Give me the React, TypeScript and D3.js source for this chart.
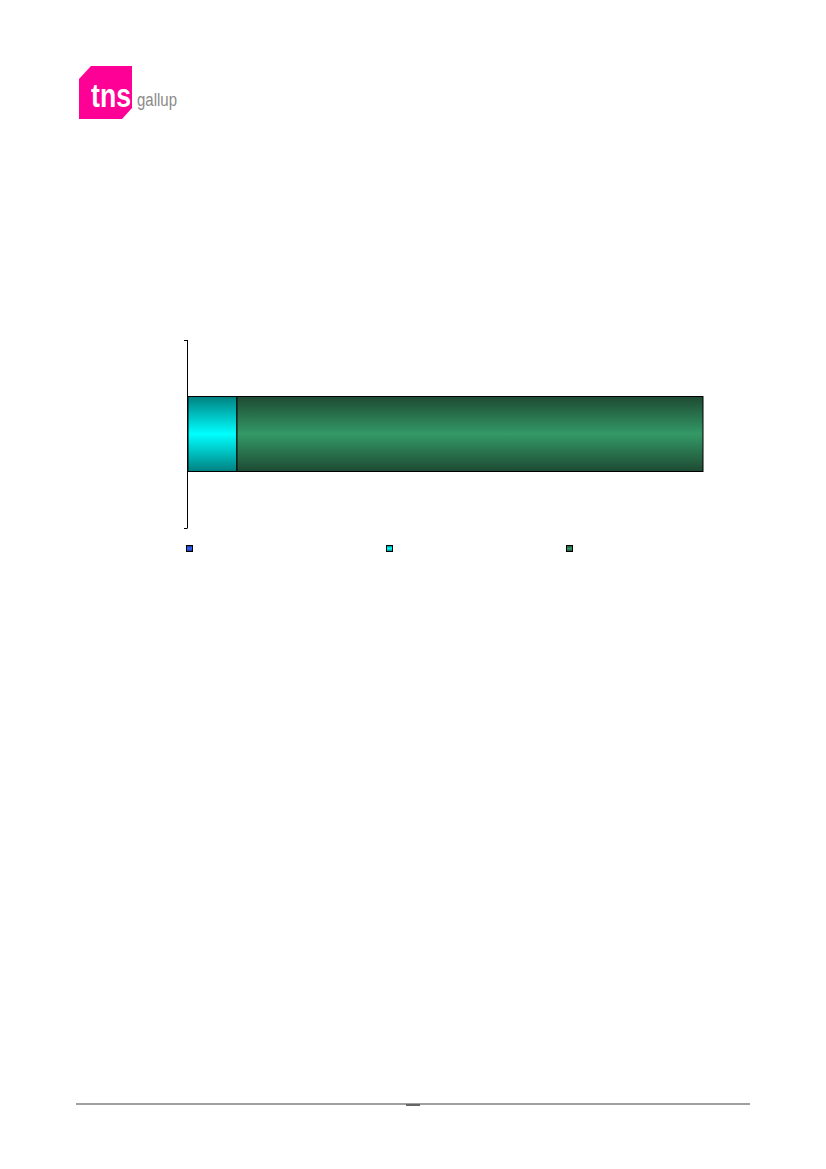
import React from "react";
import * as d3 from "d3";

const categories = ["Total"];
const seriesNames = ["Series 1", "Series 2", "Series 3"];
const seriesValues = [[0], [9.5], [90.5]];
const seriesColors = [
  { dark: "#1a2f8a", light: "#3366ff" },
  { dark: "#008080", light: "#00ffff" },
  { dark: "#1e4a33", light: "#339966" },
];

const W = 826;
const H = 1169;

export default function App() {
  const x = d3.scaleLinear().domain([0, 100]).range([188, 703]);
  const y = d3.scaleBand().domain(categories).range([340, 528]).paddingInner(0).paddingOuter(0);
  const barH = 75;

  const rows = categories.map((c, i) => {
    const r: any = { cat: c };
    seriesNames.forEach((s, j) => (r[s] = seriesValues[j][i]));
    return r;
  });
  const stacked = d3.stack().keys(seriesNames)(rows);

  const legendX = [186, 386, 566];

  return (
    <svg width={W} height={H} style={{ position: "absolute", left: 0, top: 0 }}>
      <defs>
        {seriesColors.map((c, i) => (
          <linearGradient key={i} id={`g${i}`} x1="0" y1="0" x2="0" y2="1">
            <stop offset="0" stopColor={c.dark} />
            <stop offset="0.5" stopColor={c.light} />
            <stop offset="1" stopColor={c.dark} />
          </linearGradient>
        ))}
      </defs>
      <rect width={W} height={H} fill="#fff" />
      {/* logo */}
      <path d="M91,66 L132,66 L132,108 L122,119 L79,119 L79,79 Z" fill="#ff0096" />
      <text x={91} y={107} fill="#fff" fontFamily="Liberation Sans, Arial, sans-serif" fontSize={33} fontWeight={700} textLength={40} lengthAdjust="spacingAndGlyphs">tns</text>
      <text x={137} y={106} fill="#8a8a8a" fontFamily="Liberation Sans, Arial, sans-serif" fontSize={18} textLength={40} lengthAdjust="spacingAndGlyphs">gallup</text>

      {/* bars */}
      {stacked.map((s, j) =>
        s.map((d, i) => {
          const w = x(d[1]) - x(d[0]);
          if (w <= 0) return null;
          const yc = (y(categories[i]) as number) + y.bandwidth() / 2;
          return (
            <rect key={`${j}-${i}`} x={x(d[0])} y={yc - barH / 2} width={w} height={barH}
              fill={`url(#g${j})`} stroke="#000" strokeWidth={1} />
          );
        })
      )}

      {/* axis */}
      <line x1={187.5} x2={187.5} y1={340} y2={528} stroke="#000" strokeWidth={1} />
      {[340, 528].map((t) => (
        <line key={t} x1={184} x2={187.5} y1={t + 0.5} y2={t + 0.5} stroke="#000" strokeWidth={1} />
      ))}

      {/* legend */}
      {seriesNames.map((s, j) => (
        <rect key={s} x={legendX[j] + 0.5} y={545.5} width={6} height={6} fill={`url(#g${j})`} stroke="#000" strokeWidth={1} />
      ))}

      {/* footer */}
      <rect x={76} y={1103} width={674} height={2} fill="#a0a0a0" />
      <rect x={406} y={1104} width={14} height={2} fill="#666" />
    </svg>
  );
}
